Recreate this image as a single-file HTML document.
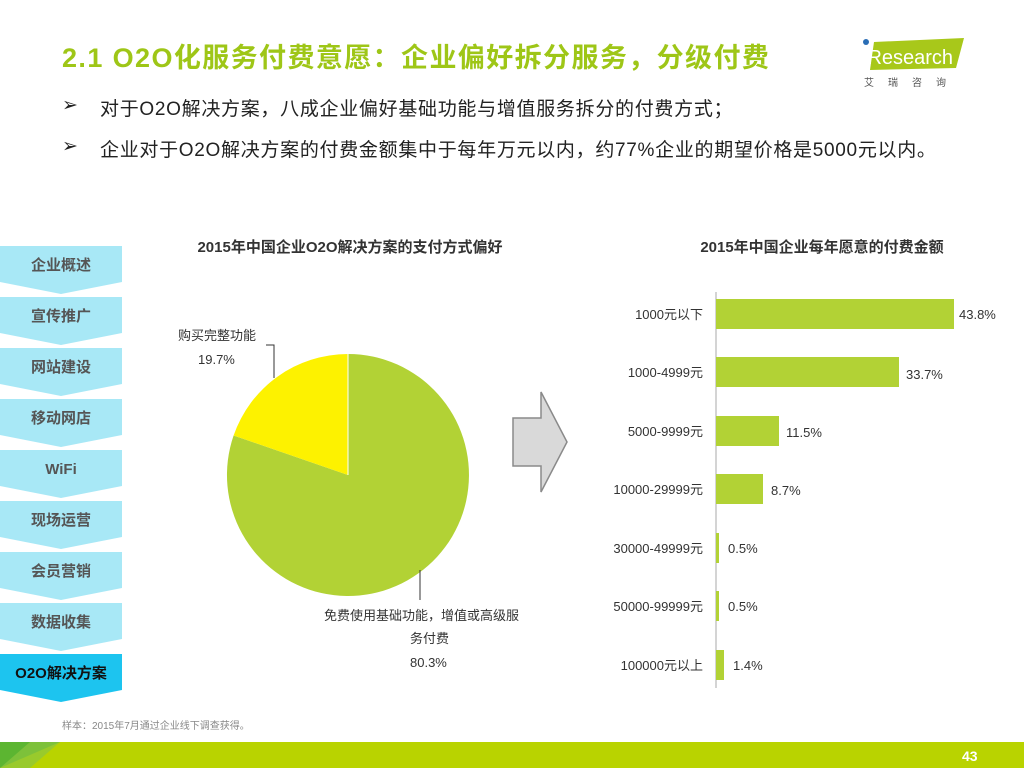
<!DOCTYPE html>
<html><head><meta charset="utf-8"><style>
body{margin:0;width:1024px;height:768px;position:relative;background:#fff;font-family:"Liberation Sans","Noto Sans CJK SC",sans-serif;overflow:hidden}
.a{position:absolute;white-space:nowrap}
</style></head><body>
<div class="a" style="left:62px;top:36px;font-size:27px;font-weight:bold;color:#9ec617;letter-spacing:1.4px">2.1 O2O化服务付费意愿：企业偏好拆分服务，分级付费</div>
<div class="a" style="left:62px;top:94px;font-size:19px;color:#222">➢</div>
<div class="a" style="left:100px;top:94px;font-size:19px;color:#222;letter-spacing:0.7px">对于O2O解决方案，八成企业偏好基础功能与增值服务拆分的付费方式；</div>
<div class="a" style="left:62px;top:135px;font-size:19px;color:#222">➢</div>
<div class="a" style="left:100px;top:135px;font-size:19px;color:#222;letter-spacing:0.7px">企业对于O2O解决方案的付费金额集中于每年万元以内，约77%企业的期望价格是5000元以内。</div>
<svg class="a" style="left:860px;top:34px" width="110" height="60">
<polygon points="14,8 104,4 96,34 10,36" fill="#a8c81a"/>
<circle cx="6" cy="8" r="3" fill="#2a6db5"/>
<text x="3" y="30" font-size="20" fill="#fff" font-family="Liberation Sans">iResearch</text>
<text x="4" y="52" font-size="10" fill="#555" letter-spacing="14">艾瑞咨询</text>
</svg>
<svg class="a" style="left:0;top:0" width="1024" height="768">
<g font-size="15" font-weight="bold" text-anchor="middle" font-family="Liberation Sans,Noto Sans CJK SC,sans-serif">
<g fill="#a8e8f6">
<polygon points="0,246 122,246 122,282 61,294 0,282"/>
<polygon points="0,297 122,297 122,333 61,345 0,333"/>
<polygon points="0,348 122,348 122,384 61,396 0,384"/>
<polygon points="0,399 122,399 122,435 61,447 0,435"/>
<polygon points="0,450 122,450 122,486 61,498 0,486"/>
<polygon points="0,501 122,501 122,537 61,549 0,537"/>
<polygon points="0,552 122,552 122,588 61,600 0,588"/>
<polygon points="0,603 122,603 122,639 61,651 0,639"/>
</g>
<polygon points="0,654 122,654 122,690 61,702 0,690" fill="#1dc4ef"/>
<g fill="#555"><text x="61" y="270">企业概述</text><text x="61" y="321">宣传推广</text><text x="61" y="372">网站建设</text><text x="61" y="423">移动网店</text><text x="61" y="474">WiFi</text><text x="61" y="525">现场运营</text><text x="61" y="576">会员营销</text><text x="61" y="627">数据收集</text></g>
<text x="61" y="678" fill="#111">O2O解决方案</text>
<text x="350" y="252" fill="#333" font-size="15">2015年中国企业O2O解决方案的支付方式偏好</text>
<text x="822" y="252" fill="#333" font-size="15">2015年中国企业每年愿意的付费金额</text>
</g>
<path d="M348,475 L348,354 A121,121 0 1 1 233.6,435.5 Z" fill="#b2d235"/>
<path d="M348,475 L233.6,435.5 A121,121 0 0 1 348,354 Z" fill="#fdf200"/>
<line x1="348" y1="475" x2="348" y2="354" stroke="#fff"/>
<polyline points="266,345 274,345 274,378" fill="none" stroke="#333"/>
<polyline points="420,570 420,600" fill="none" stroke="#333"/>
<g font-size="13" fill="#333" font-family="Liberation Sans,Noto Sans CJK SC,sans-serif">
<text x="178" y="340">购买完整功能</text><text x="198" y="364">19.7%</text>
<text x="324" y="620">免费使用基础功能，增值或高级服</text><text x="410" y="643">务付费</text><text x="410" y="667">80.3%</text>
</g>
<polygon points="513,418 541,418 541,392 567,442 541,492 541,466 513,466" fill="#d9d9d9" stroke="#8a8a8a" stroke-width="1.5"/>
<line x1="716" y1="292" x2="716" y2="688" stroke="#aaa"/>
<g fill="#b2d235">
<rect x="716" y="299" width="238" height="30"/><rect x="716" y="357" width="183" height="30"/>
<rect x="716" y="416" width="63" height="30"/><rect x="716" y="474" width="47" height="30"/>
<rect x="716" y="533" width="3" height="30"/><rect x="716" y="591" width="3" height="30"/>
<rect x="716" y="650" width="8" height="30"/>
</g>
<g font-size="13" fill="#333" font-family="Liberation Sans,Noto Sans CJK SC,sans-serif">
<g text-anchor="end"><text x="703" y="319">1000元以下</text><text x="703" y="377">1000-4999元</text><text x="703" y="436">5000-9999元</text><text x="703" y="494">10000-29999元</text><text x="703" y="553">30000-49999元</text><text x="703" y="611">50000-99999元</text><text x="703" y="670">100000元以上</text></g>
<text x="959" y="319">43.8%</text><text x="906" y="379">33.7%</text><text x="786" y="437">11.5%</text><text x="771" y="495">8.7%</text><text x="728" y="553">0.5%</text><text x="728" y="611">0.5%</text><text x="733" y="670">1.4%</text>
</g>
<text x="62" y="729" font-size="10" fill="#888" font-family="Liberation Sans,Noto Sans CJK SC,sans-serif">样本：2015年7月通过企业线下调查获得。</text>
<rect x="0" y="742" width="1024" height="26" fill="#b9d300"/>
<polygon points="0,742 60,742 0,768" fill="#5cb531"/>
<polygon points="30,742 60,742 30,768 0,768" fill="#8cc63f" opacity="0.7"/>
<text x="962" y="761" font-size="14" font-weight="bold" fill="#fff" font-family="Liberation Sans">43</text>
</svg>
</body></html>
